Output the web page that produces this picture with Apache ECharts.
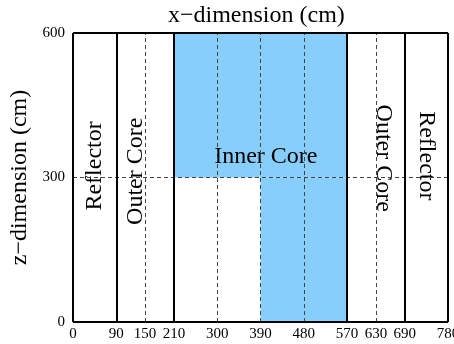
<!DOCTYPE html>
<html>
<head>
<meta charset="utf-8">
<script src="https://cdn.jsdelivr.net/npm/echarts@6/dist/echarts.min.js"></script>
<style>
  html, body { margin: 0; padding: 0; background: #fff; }
  #core { width: 454px; height: 344px; }
</style>
</head>
<body>
<div id="core"></div>
<script>
// x tick positions (cm)
const xTicks = [0, 90, 150, 210, 300, 390, 480, 570, 630, 690, 780];
const zTicks = [0, 300, 600];
// inner core zones: [x0, x1, z0, z1]
const innerZones = [
  [210, 570, 300, 600],
  [390, 570, 0, 300]
];
// region boundaries
const solidX = [0, 90, 210, 570, 690, 780];
const solidZ = [0, 600];
const dashedX = [150, 300, 390, 480, 630];
const dashedZ = [300];
// region names: [x, z, text, direction]
const regionNames = [
  [45, 324, 'Reflector', 'up'],
  [131, 313, 'Outer Core', 'up'],
  [401, 343, 'Inner Core', 'flat'],
  [646, 340, 'Outer Core', 'down'],
  [734, 345, 'Reflector', 'down']
];

const serif = '"Liberation Serif", "Times New Roman", serif';
const myChart = echarts.init(document.getElementById('core'));

myChart.setOption({
  animation: false,
  title: {
    text: 'x\u2212dimension (cm)',
    left: 168,
    top: 4,
    padding: 0,
    textStyle: { fontFamily: serif, fontSize: 24, fontWeight: 'normal', color: '#000' }
  },
  grid: { left: 73, right: 6, top: 33, bottom: 22, outerBoundsMode: 'none' },
  xAxis: {
    type: 'value',
    min: 0,
    max: 780,
    splitLine: { show: false },
    axisLine: { show: false },
    axisTick: { show: false },
    axisLabel: {
      customValues: xTicks,
      margin: 5,
      color: '#000',
      fontFamily: serif,
      fontSize: 15,
      hideOverlap: false
    }
  },
  yAxis: {
    type: 'value',
    min: 0,
    max: 600,
    interval: 300,
    name: 'z\u2212dimension (cm)',
    nameLocation: 'middle',
    nameRotate: 90,
    nameGap: 35,
    nameTextStyle: { fontFamily: serif, fontSize: 24, color: '#000' },
    splitLine: { show: false },
    axisLine: { show: false },
    axisTick: { show: false },
    axisLabel: {
      customValues: zTicks,
      margin: 8,
      color: '#000',
      fontFamily: serif,
      fontSize: 15
    }
  },
  series: [
    {
      type: 'custom',
      z: 1,
      silent: true,
      data: innerZones,
      renderItem: function (params, api) {
        const a = api.coord([api.value(0), api.value(3)]);
        const b = api.coord([api.value(1), api.value(2)]);
        return {
          type: 'rect',
          shape: { x: a[0], y: a[1], width: b[0] - a[0], height: b[1] - a[1] },
          style: { fill: '#87cefa' }
        };
      }
    },
    {
      type: 'custom',
      z: 2,
      silent: true,
      data: regionNames,
      renderItem: function (params, api) {
        const item = regionNames[params.dataIndex];
        const p = api.coord([item[0], item[1]]);
        let rot = 0;
        if (item[3] === 'up') rot = Math.PI / 2;
        if (item[3] === 'down') rot = -Math.PI / 2;
        return {
          type: 'text',
          x: p[0],
          y: p[1],
          rotation: rot,
          style: {
            text: item[2],
            font: '24px ' + serif,
            fill: '#000',
            align: 'center',
            verticalAlign: 'middle'
          }
        };
      }
    },
    {
      type: 'line',
      z: 3,
      data: [],
      markLine: {
        silent: true,
        symbol: 'none',
        label: { show: false },
        lineStyle: { color: '#444', width: 1, type: [4, 3] },
        data: dashedX.map(v => ({ xAxis: v })).concat(dashedZ.map(v => ({ yAxis: v })))
      }
    },
    {
      type: 'line',
      z: 4,
      data: [],
      markLine: {
        silent: true,
        symbol: 'none',
        label: { show: false },
        lineStyle: { color: '#000', width: 2, type: 'solid' },
        data: solidX.map(v => ({ xAxis: v })).concat(solidZ.map(v => ({ yAxis: v })))
      }
    }
  ]
});

window.addEventListener('resize', function () {
  myChart.resize();
});
</script>
</body>
</html>
